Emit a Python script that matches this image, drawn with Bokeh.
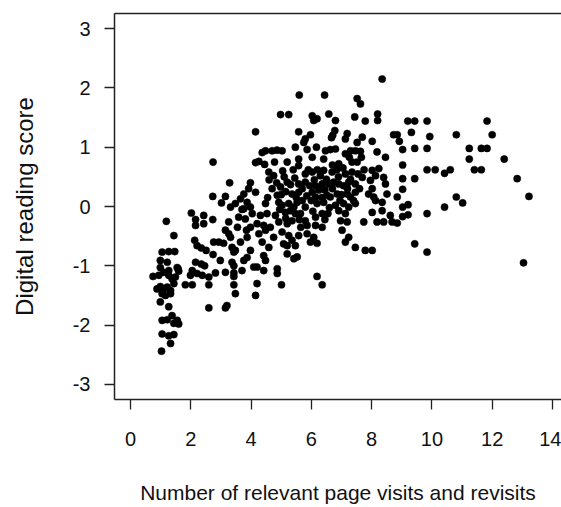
from bokeh.plotting import figure
from bokeh.models import LinearAxis, FixedTicker, Range1d
from bokeh.embed import file_html
from bokeh.resources import INLINE

# (visits, score) pairs, grouped by region
left_cluster = [
    (1.19, -0.25), (1.44, -0.49), (1.05, -0.77), (1.27, -0.76), (1.47, -0.76), (0.99, -0.91),
    (1.22, -0.94), (0.99, -1.03), (1.55, -1.03), (1.60, -1.09), (0.75, -1.18), (1.10, -1.11),
    (1.27, -1.16), (1.38, -1.22), (1.49, -1.19), (0.94, -1.16), (1.58, -1.05), (1.27, -1.08),
    (0.88, -1.39), (0.99, -1.35), (1.10, -1.39), (1.22, -1.36), (1.33, -1.42), (1.44, -1.30),
    (1.05, -1.47), (1.16, -1.50), (1.33, -1.47), (0.99, -1.61), (1.27, -1.69),
    (1.05, -1.92), (1.22, -1.91), (1.38, -1.84), (1.55, -1.92), (1.44, -1.97), (1.60, -1.98),
    (1.05, -2.15), (1.27, -2.18), (1.44, -2.16), (1.33, -2.31), (1.03, -2.44),
]

lower_mid = [
    (3.29, 0.40), (3.98, 0.40), (2.73, 0.17), (3.15, 0.17), (3.02, 0.06), (3.65, 0.13),
    (3.76, 0.21), (3.48, 0.05), (3.32, -0.01), (3.87, 0.07), (3.98, -0.01), (2.02, -0.11),
    (2.16, -0.22), (2.16, -0.32), (2.43, -0.15), (2.43, -0.29), (2.73, -0.22), (3.26, -0.26),
    (3.59, -0.18), (3.81, -0.21), (3.15, -0.40), (3.26, -0.46), (3.32, -0.52), (2.13, -0.57),
    (2.21, -0.66), (2.35, -0.70), (2.51, -0.74), (2.76, -0.60), (2.93, -0.60), (3.09, -0.62),
    (3.37, -0.69), (3.48, -0.74), (3.43, -0.77), (2.74, -0.81), (2.98, -0.91), (3.37, -0.94),
    (3.43, -1.00), (3.76, -0.91), (3.87, -0.86), (2.16, -0.94), (2.35, -0.97), (2.46, -1.00),
    (2.05, -1.08), (1.99, -1.16), (2.21, -1.13), (2.38, -1.16), (2.82, -1.12), (3.15, -1.11),
    (3.43, -1.12), (3.70, -1.08), (3.43, -1.18), (2.60, -1.19),
    (3.92, 0.30), (3.76, -0.04), (4.04, -0.12), (3.98, -0.35), (3.87, -0.52), (3.98, -0.74),
    (4.09, -1.02), (3.70, -0.05), (3.55, -0.35), (3.85, -0.40), (3.65, -0.60),
    (1.82, -1.32), (2.05, -1.32), (2.60, -1.32), (3.43, -1.32), (3.48, -1.47),
    (2.60, -1.71), (3.20, -1.67), (3.15, -1.71), (2.74, 0.75),
]

center = [
    (4.59, 0.58), (4.75, 0.52), (5.80, 0.55), (6.03, 0.58), (6.30, 0.52), (6.69, 0.58),
    (7.13, 0.55), (7.35, 0.58), (7.69, 0.49), (7.96, 0.44), (8.13, 0.52), (8.40, 0.49),
    (4.98, 0.33), (5.20, 0.41), (5.31, 0.37), (5.58, 0.38), (5.80, 0.41), (6.14, 0.35),
    (6.36, 0.38), (6.58, 0.38), (6.74, 0.41), (6.91, 0.38), (7.07, 0.35), (7.24, 0.41),
    (7.46, 0.38), (8.02, 0.30), (8.46, 0.38),
    (4.15, 0.24), (4.87, 0.19), (5.36, 0.21), (5.58, 0.24), (6.03, 0.24), (6.14, 0.16),
    (6.52, 0.19), (6.63, 0.16), (6.86, 0.21), (7.19, 0.21), (7.30, 0.16), (7.46, 0.24),
    (7.90, 0.21), (8.07, 0.16), (8.51, 0.21),
    (4.48, 0.05), (4.92, 0.07), (5.03, 0.02), (5.25, 0.05), (5.42, -0.01), (5.53, 0.07),
    (5.80, -0.01), (6.19, 0.05), (6.41, 0.07), (6.80, 0.02), (7.07, 0.05), (7.24, -0.01),
    (7.46, 0.05), (8.13, 0.10), (8.35, 0.07),
    (4.31, -0.15), (4.53, -0.12), (4.81, -0.15), (5.14, -0.10), (5.31, -0.07), (5.47, -0.12),
    (5.64, -0.12), (6.14, -0.18), (6.36, -0.12), (6.91, -0.07), (7.13, -0.12), (8.02, -0.10),
    (8.35, -0.07), (8.62, -0.15),
    (4.20, -0.29), (4.42, -0.32), (4.64, -0.35), (4.92, -0.26), (5.20, -0.29), (5.36, -0.24),
    (5.80, -0.24), (5.86, -0.32), (6.14, -0.32), (6.36, -0.35), (6.97, -0.24), (7.19, -0.26),
    (7.74, -0.26), (8.18, -0.26), (8.40, -0.26), (8.68, -0.26),
    (4.26, -0.46), (4.48, -0.40), (4.75, -0.52), (5.03, -0.43), (5.25, -0.49), (5.58, -0.49),
    (5.86, -0.46), (6.08, -0.52), (7.02, -0.40), (7.24, -0.52),
    (4.37, -0.60), (4.59, -0.69), (5.08, -0.63), (5.20, -0.66), (5.36, -0.57), (5.47, -0.66),
    (5.97, -0.60), (6.19, -0.62), (7.13, -0.60), (7.46, -0.69), (7.79, -0.74), (8.02, -0.74),
    (4.42, -0.83), (4.48, -0.91), (5.20, -0.80), (5.42, -0.88), (5.53, -0.85),
    (4.20, -1.02), (4.42, -1.08), (4.87, -1.05), (4.87, -1.13), (6.19, -1.18),
    (4.20, -1.30), (5.01, -1.32), (6.36, -1.32), (4.15, -1.50),
    (4.60, 0.45), (4.70, 0.30), (4.55, 0.15), (5.10, 0.50), (5.00, 0.20), (5.45, 0.48),
    (5.70, 0.30), (6.00, 0.10), (6.25, 0.28), (6.50, 0.46), (6.60, -0.02), (6.90, 0.50),
    (7.00, 0.20), (7.30, 0.46), (5.90, 0.62), (6.70, 0.70), (5.15, -0.20), (5.65, -0.35),
    (6.45, -0.22), (5.70, 0.10),
]

dense_core = [
    (5.05, 0.60), (5.40, 0.62), (5.95, 0.35), (6.10, 0.45), (6.20, 0.62), (6.45, 0.28),
    (6.85, 0.62), (7.05, 0.65), (7.20, 0.30), (7.55, 0.55), (7.60, 0.30), (7.75, 0.62),
    (5.50, 0.15), (5.85, 0.18), (6.35, 0.15), (6.70, 0.30), (6.95, 0.10), (7.40, 0.10),
    (5.15, 0.25), (4.85, 0.40), (5.60, -0.22), (6.05, -0.08), (6.55, -0.12), (4.95, -0.05),
]

upper = [
    (8.35, 2.15), (5.60, 1.88), (6.44, 1.88), (7.52, 1.82), (7.63, 1.73), (4.98, 1.55),
    (5.25, 1.55), (6.03, 1.53), (6.19, 1.48), (6.08, 1.45), (6.58, 1.56), (6.80, 1.45),
    (7.44, 1.51), (7.79, 1.44), (8.20, 1.56), (8.20, 1.45),
    (4.15, 1.26), (5.58, 1.26), (5.97, 1.21), (5.80, 1.14), (5.75, 1.08), (6.78, 1.28),
    (6.71, 1.20), (6.67, 1.16), (7.19, 1.23), (7.13, 1.14), (7.69, 1.17), (7.52, 1.08),
    (8.02, 1.10), (8.73, 1.21),
    (5.47, 1.00), (5.86, 0.96), (6.17, 1.00), (6.47, 0.94), (6.63, 0.96), (6.80, 0.97),
    (7.13, 0.89), (7.30, 0.94), (7.46, 0.94), (7.63, 0.93), (7.26, 0.83), (7.66, 0.83),
    (7.35, 0.75), (7.52, 0.75), (8.18, 0.92), (8.46, 0.83),
    (4.37, 0.91), (4.48, 0.94), (4.70, 0.94), (4.86, 0.95), (5.03, 0.94),
    (4.15, 0.74), (4.26, 0.76), (4.45, 0.71), (4.78, 0.75), (5.20, 0.75),
    (5.58, 0.80), (5.58, 0.69), (6.03, 0.83), (6.41, 0.80), (6.91, 0.72), (6.41, 0.61),
    (8.02, 0.61), (8.24, 0.64),
]

right_tail = [
    (9.20, 1.44), (9.43, 1.44), (9.84, 1.44), (11.83, 1.44), (8.85, 1.21), (8.92, 1.10),
    (9.32, 1.25), (9.93, 1.18), (10.81, 1.21), (12.00, 1.21), (9.03, 0.96), (9.43, 0.98),
    (9.84, 0.98), (11.24, 0.98), (11.64, 0.98), (11.83, 0.98), (11.24, 0.80), (12.40, 0.80),
    (9.03, 0.70), (9.84, 0.62), (10.11, 0.62), (10.42, 0.56), (10.61, 0.62), (11.41, 0.62),
    (11.64, 0.62), (9.03, 0.47), (9.43, 0.47), (12.83, 0.47), (9.03, 0.29), (8.85, 0.16),
    (10.81, 0.16), (11.02, 0.06), (13.22, 0.17), (9.03, -0.01), (9.21, 0.03), (10.42, -0.01),
    (9.84, -0.12), (9.03, -0.17), (9.21, -0.14), (8.85, -0.28), (9.43, -0.63), (9.84, -0.77),
    (13.04, -0.95),
]

x_ticks = [0, 2, 4, 6, 8, 10, 12, 14]
y_ticks = [-3, -2, -1, 0, 1, 2, 3]
x_title = "Number of relevant page visits and revisits"
y_title = "Digital reading score"

pairs = left_cluster + lower_mid + center + dense_core + upper + right_tail
visits = [p[0] for p in pairs]
score = [p[1] for p in pairs]

FONT = "Liberation Sans"
INK = "#111111"

p = figure(width=561, height=507, output_backend="svg", toolbar_location=None,
           x_range=Range1d(-0.53, 14.30), y_range=Range1d(-3.255, 3.255),
           x_axis_location=None, y_axis_location=None,
           min_border_left=114, min_border_right=0, min_border_top=13, min_border_bottom=108)
p.outline_line_color = None
p.grid.visible = False
p.background_fill_color = "white"
p.border_fill_color = "white"

p.scatter(visits, score, size=7.2, fill_color="black", line_color="black", line_width=0.5)

def style(ax, ticks):
    ax.ticker = FixedTicker(ticks=ticks)
    ax.major_label_overrides = {t: str(t) for t in ticks}
    ax.minor_tick_line_color = None
    ax.major_tick_in = 0
    ax.major_tick_out = 10
    ax.major_tick_line_color = "#222222"
    ax.major_tick_line_width = 1.3
    ax.axis_line_color = "#222222"
    ax.axis_line_width = 1.5
    ax.major_label_text_font = FONT
    ax.major_label_text_font_size = "20px"
    ax.major_label_text_color = INK
    ax.axis_label_text_font = FONT
    ax.axis_label_text_font_style = "normal"
    ax.axis_label_text_color = INK

xa = LinearAxis(axis_label=x_title)
style(xa, x_ticks)
xa.major_label_standoff = 22
xa.axis_label_standoff = 32
xa.axis_label_text_font_size = "21px"
p.add_layout(xa, "below")

ya = LinearAxis(axis_label=y_title)
style(ya, y_ticks)
ya.major_label_standoff = 14
ya.axis_label_standoff = 32
ya.axis_label_text_font_size = "24px"
p.add_layout(ya, "left")

top = LinearAxis(ticker=FixedTicker(ticks=[]), major_label_text_font_size="0px",
                 axis_line_color="#222222", axis_line_width=1.5,
                 major_tick_line_color=None, minor_tick_line_color=None)
p.add_layout(top, "above")

open("out.html", "w").write(file_html(p, INLINE))
